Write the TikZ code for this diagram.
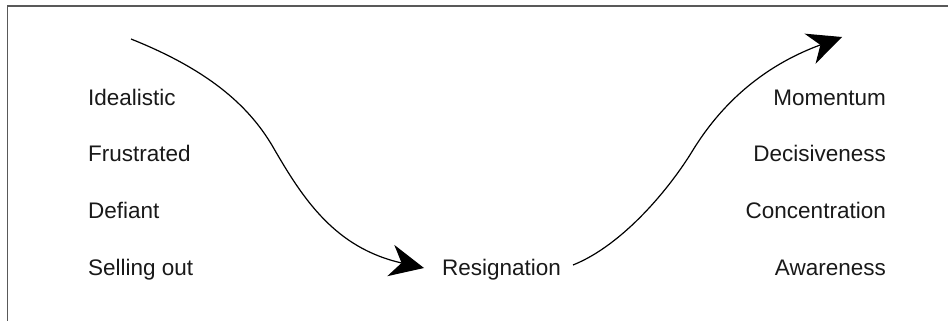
\documentclass[tikz,border=0pt]{standalone}
\usepackage{fontspec}
\setmainfont{Liberation Sans}
\usetikzlibrary{arrows.meta}
\begin{document}
\begin{tikzpicture}[x=1pt,y=-1pt,
  lbl/.style={inner sep=0pt, font=\fontsize{22.5}{27}\selectfont, text=black!90},
  curve/.style={line width=1.2pt, -{Stealth[length=34pt,width=32pt,inset=11pt]}},
  frame/.style={line width=1.3pt, draw=black!65}]
\useasboundingbox (0,0) rectangle (948,321);
% frame
\coordinate (fb) at (7.5,330);
\coordinate (fc) at (7.5,6);
\coordinate (fr) at (960,6);
\draw[frame] (fb) -- (fc) -- (fr);
% left column
\node[lbl, anchor=base west] (ideal) at (88,105) {Idealistic};
\node[lbl, anchor=base west] (frus) at (88,161.7) {Frustrated};
\node[lbl, anchor=base west] (defi) at (88,218.3) {Defiant};
\node[lbl, anchor=base west] (sell) at (88,275) {Selling out};
% right column
\node[lbl, anchor=base east] (mome) at (886,105) {Momentum};
\node[lbl, anchor=base east] (deci) at (886,161.7) {Decisiveness};
\node[lbl, anchor=base east] (conc) at (886,218.3) {Concentration};
\node[lbl, anchor=base east] (awar) at (886,275) {Awareness};
% middle
\node[lbl, anchor=base west] (res) at (442,275) {Resignation};
% curve 1
\coordinate (s1) at (131,39);
\coordinate (m1) at (273,147);
\coordinate (e1) at (424,268);
\draw[curve] (s1) .. controls (206,69) and (248,104) .. (m1)
                  .. controls (303,199) and (335,248) .. (e1);
% curve 2
\coordinate (s2) at (573,265);
\coordinate (m2) at (693,150);
\coordinate (e2) at (842,37);
\draw[curve] (s2) .. controls (623,245) and (670,188) .. (m2)
                  .. controls (714,116) and (752,70) .. (e2);
\end{tikzpicture}
\end{document}
